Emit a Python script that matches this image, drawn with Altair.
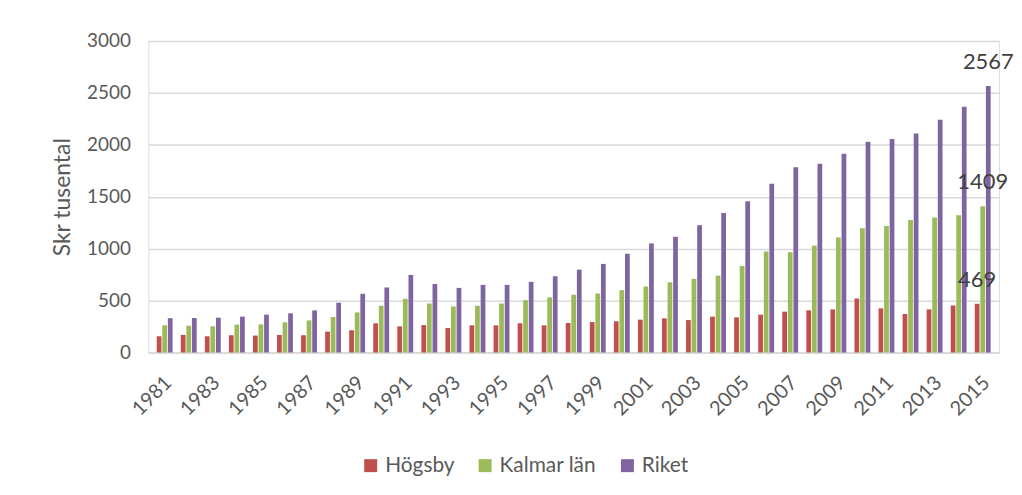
import altair as alt
import pandas as pd

years = list(range(1981, 2016))
hogsby = [156, 169, 156, 166, 163, 169, 166, 201, 214, 281,
          252, 264, 235, 261, 261, 281, 261, 284, 293, 300,
          316, 329, 312, 345, 338, 364, 393, 406, 415, 520,
          425, 371, 415, 453, 469]
kalmar = [262, 258, 252, 268, 271, 290, 309, 341, 386, 450,
          517, 472, 443, 450, 472, 504, 530, 556, 568, 600,
          635, 676, 709, 740, 834, 973, 966, 1029, 1108, 1197,
          1219, 1277, 1299, 1321, 1409]
riket = [330, 332, 335, 345, 364, 377, 405, 479, 565, 626,
         747, 660, 622, 651, 651, 680, 734, 798, 853, 951,
         1050, 1114, 1226, 1343, 1456, 1626, 1785, 1817, 1915, 2030,
         2055, 2110, 2241, 2368, 2567]
series_names = ["Högsby", "Kalmar län", "Riket"]
colors = ["#C0504D", "#9BBB59", "#8064A2"]
label_years = [y for y in years if y % 2 == 1]

rows = []
for i, y in enumerate(years):
    for name, vals in zip(series_names, [hogsby, kalmar, riket]):
        rows.append({"year": y, "series": name, "value": vals[i]})
df = pd.DataFrame(rows)
df_last = df[df["year"] == years[-1]]

FONT = "Lato"
GREY = "#595959"

x_enc = alt.X("year:O", title=None,
              scale=alt.Scale(paddingInner=0.34, paddingOuter=0.35),
              axis=alt.Axis(values=label_years, labelAngle=-45, labelAlign="right",
                            labelBaseline="middle", labelPadding=27, labelOffset=4,
                            ticks=False,
                            labelFontSize=20, labelColor=GREY, labelFont=FONT,
                            domainColor="#d9d9d9", domainWidth=1.5, grid=False))
xoff = alt.XOffset("series:N", sort=series_names,
                   scale=alt.Scale(paddingInner=0.15))
y_enc = alt.Y("value:Q", title="Skr tusental",
              scale=alt.Scale(domain=[0, 3000], nice=False),
              axis=alt.Axis(values=[0, 500, 1000, 1500, 2000, 2500, 3000],
                            format="d",
                            domain=False, ticks=False, labelPadding=18,
                            labelFontSize=19, labelColor=GREY, labelFont=FONT,
                            gridColor="#d9d9d9", gridWidth=1.5,
                            titleFontSize=23, titleFontWeight="normal",
                            titleColor=GREY, titleFont=FONT, titlePadding=12))

bars = alt.Chart(df).mark_bar().encode(
    x=x_enc, xOffset=xoff, y=y_enc,
    color=alt.Color("series:N", sort=series_names,
                    scale=alt.Scale(domain=series_names, range=colors),
                    legend=alt.Legend(orient="none", legendX=213, legendY=416,
                                      direction="horizontal", title=None,
                                      symbolType="square", symbolSize=170,
                                      symbolStrokeWidth=0, labelFontSize=21,
                                      labelColor=GREY, labelFont=FONT,
                                      columnPadding=20, symbolOffset=0)),
)

labels = alt.Chart(df_last).mark_text(
    fontSize=22, font=FONT, color="#404040", baseline="alphabetic", dy=-17
).encode(x=alt.X("year:O"), xOffset=alt.XOffset("series:N", sort=series_names),
         y="value:Q", text="value:Q")

chart = alt.layer(bars, labels).properties(
    width=855, height=313,
    padding={"left": 43, "top": 23, "right": 0, "bottom": 5},
).configure_view(stroke=None).configure(background="white")

chart.save("out.html", embed_options={"renderer": "svg", "actions": False})
